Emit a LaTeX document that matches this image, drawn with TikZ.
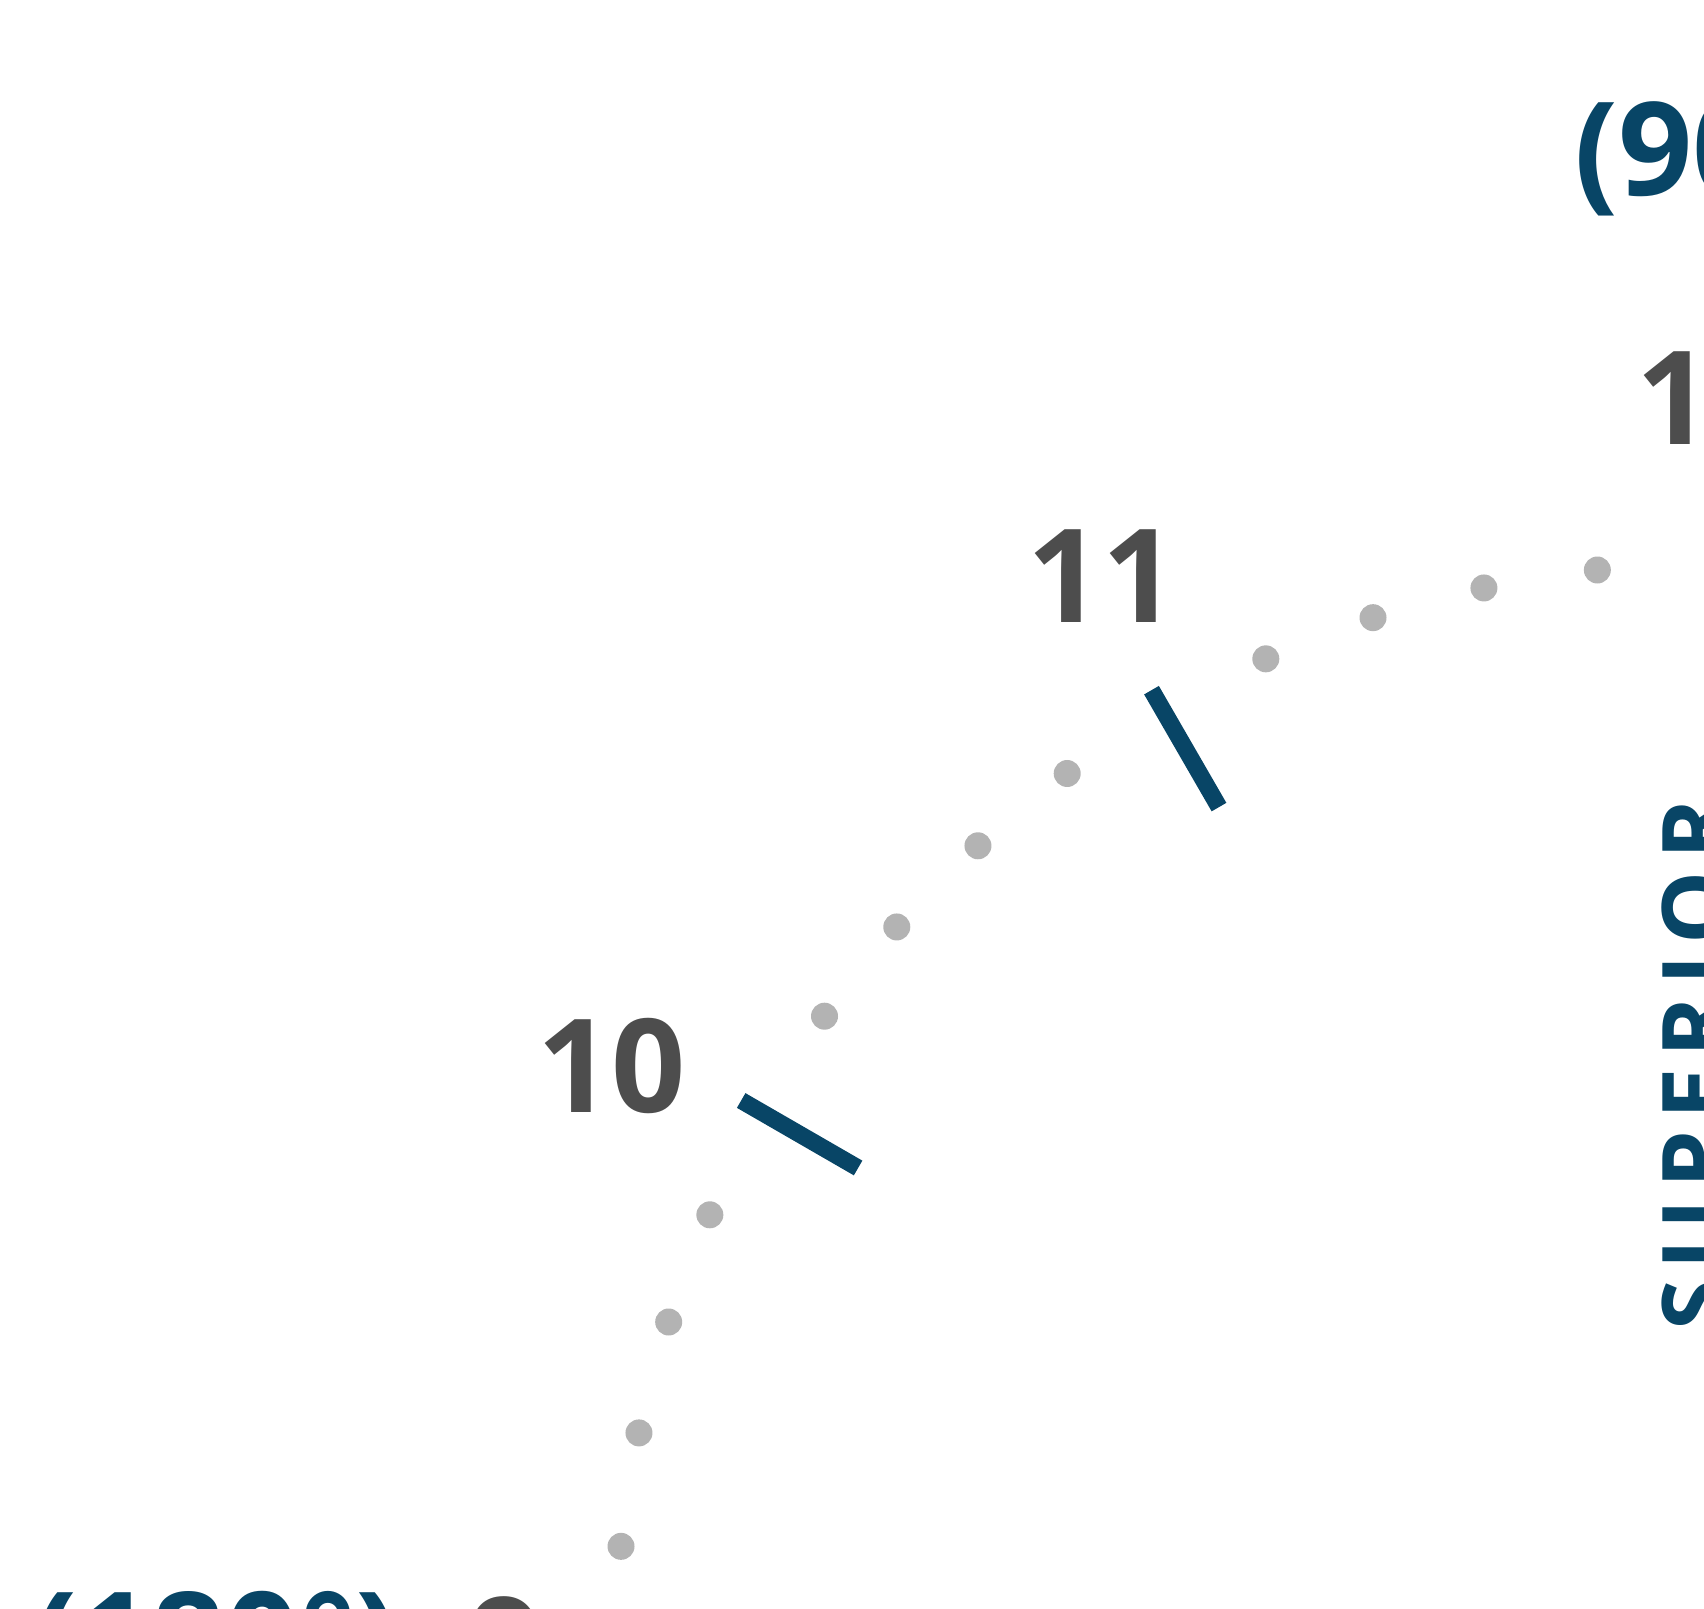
\documentclass[tikz,border=0pt]{standalone}
\usepackage{fontspec}
\setmainfont{Open Sans}
\usepackage{xcolor}
\usetikzlibrary{positioning}
\definecolor{dialblue}{HTML}{084566}
\definecolor{dialgray}{HTML}{4D4D4D}
\definecolor{dotgray}{HTML}{B3B3B3}

\begin{document}
\begin{tikzpicture}[x=0.5pt, y=0.5pt,
  hour/.style={inner sep=0pt, text=dialgray, font=\fontsize{65}{65}\selectfont\bfseries},
  deg/.style={inner sep=0pt, anchor=base west, text=dialblue, font=\fontsize{65}{65}\selectfont\bfseries},
  side/.style={inner sep=0pt, anchor=base, rotate=90, text=dialblue, font=\fontsize{46}{46}\selectfont\bfseries\addfontfeatures{LetterSpace=12}},
  hourtick/.style={draw=dialblue, line width=8.5pt},
  mindot/.style={fill=dotgray, draw=none}]
\useasboundingbox (0,0) rectangle (1704,1608);
\coordinate (c) at (1712,-53);
\begin{scope}[shift={(c)}]
  \foreach \a in {90,120,150,180}
    \draw[hourtick] (\a:986) -- (\a:1121);
  \foreach \a in {96,102,108,114,126,132,138,144,156,162,168,174}
    \fill[mindot] (\a:1097) circle[radius=13.5];
\end{scope}
\node[hour] (h9) at (506,-36) {9};
\node[hour] (h10) at (611.5,542) {10};
\node[hour] (h11) at (1102,1031.5) {11};
\node[hour] (h12) at (1711,1211) {12};
\node[deg] (d90) at (1574,1412) {(90°)};
\node[deg] (d180) at (33,-77) {(180°)};
\node[side] (sup) at (1728,543) {SUPERIOR};
\end{tikzpicture}
\end{document}
